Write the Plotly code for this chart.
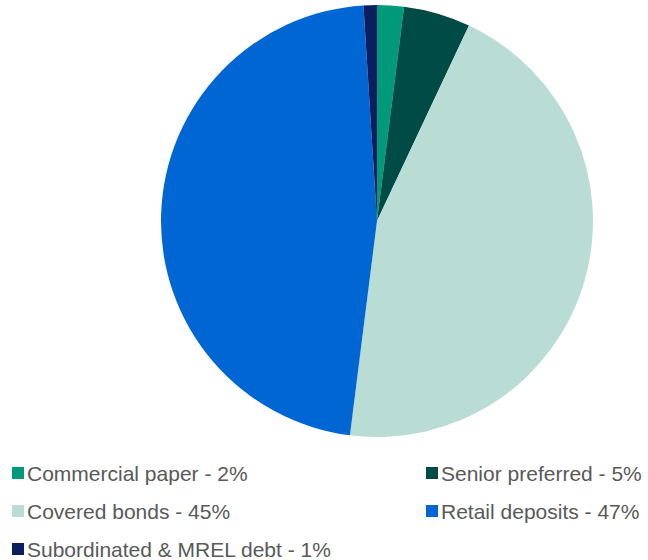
import plotly.graph_objects as go

# Funding mix, share of total (%)
categories = ["Commercial paper", "Senior preferred", "Covered bonds",
              "Retail deposits", "Subordinated & MREL debt"]
shares = [2, 5, 45, 47, 1]
colors = ["#00997A", "#004B45", "#B9DCD4", "#0066D4", "#0B1E5F"]

# legend order: two columns, filled row by row
legend_order = [0, 1, 2, 3, 4]

W, H = 648, 560

fig = go.Figure(go.Pie(
    labels=categories,
    values=shares,
    marker=dict(colors=colors, line=dict(width=0)),
    sort=False,
    direction="clockwise",
    rotation=0,
    textinfo="none",
    hoverinfo="label+percent",
    showlegend=False,
    domain=dict(x=[161 / W, 593 / W], y=[1 - 437 / H, 1 - 5 / H]),
))

col_x = [12, 426]
row_y = [473, 511, 549]
for k, i in enumerate(legend_order):
    cx = col_x[k % 2]
    cy = row_y[k // 2]
    fig.add_shape(type="rect", xref="paper", yref="paper",
                  x0=cx / W, x1=(cx + 12) / W,
                  y0=1 - (cy + 6) / H, y1=1 - (cy - 6) / H,
                  fillcolor=colors[i], line=dict(width=0))
    fig.add_annotation(xref="paper", yref="paper",
                       x=(cx + 13) / W, y=1 - cy / H,
                       xanchor="left", yanchor="middle",
                       text=f"{categories[i]} - {shares[i]}%",
                       showarrow=False,
                       font=dict(family="Liberation Sans, Arial", size=21,
                                 color="#595959"))

fig.update_layout(
    width=W, height=H,
    margin=dict(l=0, r=0, t=0, b=0),
    paper_bgcolor="white",
    plot_bgcolor="white",
)

fig.write_html("out.html")
